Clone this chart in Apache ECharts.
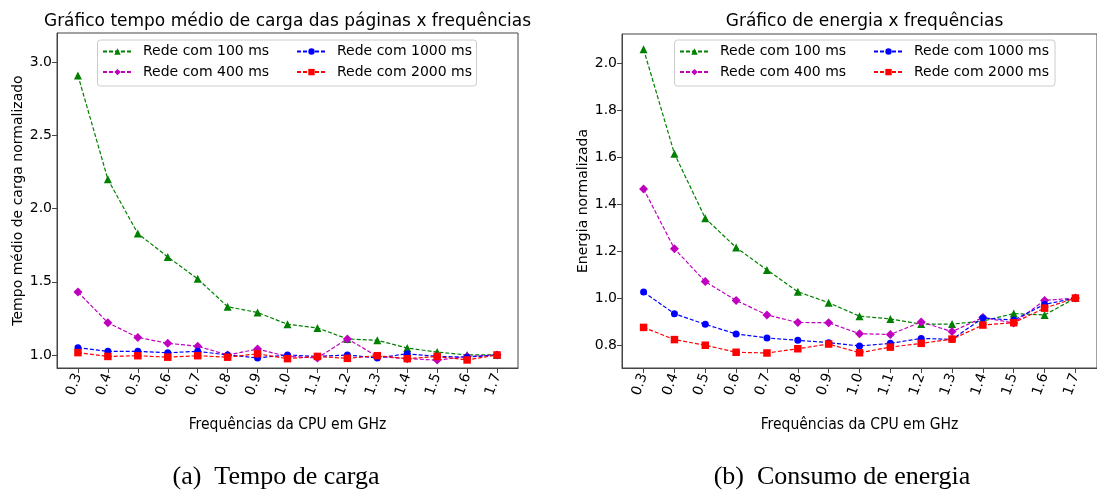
<!DOCTYPE html>
<html>
<head>
<meta charset="utf-8">
<script src="https://cdn.jsdelivr.net/npm/echarts@6/dist/echarts.min.js"></script>
<style>
  html, body { margin: 0; padding: 0; background: #fff; }
  #chart { width: 1097px; height: 491px; }
</style>
</head>
<body>
<div id="chart"></div>
<script>
// ---- Data ----
const freqs = [0.3, 0.4, 0.5, 0.6, 0.7, 0.8, 0.9, 1.0, 1.1, 1.2, 1.3, 1.4, 1.5, 1.6, 1.7];
const seriesNames = ['Rede com 100 ms', 'Rede com 400 ms', 'Rede com 1000 ms', 'Rede com 2000 ms'];

// Tempo médio de carga normalizado
const tempo100  = [2.91, 2.20, 1.83, 1.67, 1.52, 1.33, 1.29, 1.21, 1.185, 1.11, 1.10, 1.047, 1.02, 1.0, 1.0];
const tempo400  = [1.43, 1.22, 1.12, 1.08, 1.06, 1.00, 1.04, 0.99, 0.98, 1.11, 0.99, 0.975, 0.965, 0.99, 1.0];
const tempo1000 = [1.05, 1.025, 1.025, 1.015, 1.025, 1.0, 0.98, 1.0, 0.99, 1.0, 0.98, 1.008, 0.99, 0.985, 1.0];
const tempo2000 = [1.016, 0.99, 0.995, 0.985, 0.995, 0.985, 1.008, 0.975, 0.99, 0.977, 0.995, 0.975, 0.99, 0.966, 1.0];

// Energia normalizada
const energia100  = [2.06, 1.615, 1.34, 1.215, 1.12, 1.027, 0.98, 0.923, 0.911, 0.889, 0.889, 0.902, 0.934, 0.928, 1.0];
const energia400  = [1.465, 1.21, 1.07, 0.99, 0.928, 0.896, 0.895, 0.848, 0.845, 0.898, 0.857, 0.917, 0.894, 0.99, 1.0];
const energia1000 = [1.026, 0.933, 0.888, 0.847, 0.83, 0.82, 0.81, 0.796, 0.807, 0.828, 0.824, 0.915, 0.906, 0.973, 1.0];
const energia2000 = [0.875, 0.823, 0.799, 0.769, 0.766, 0.784, 0.804, 0.767, 0.791, 0.807, 0.825, 0.885, 0.895, 0.957, 1.0];

// Tick labels
const xTickLabels = [0.3, 0.4, 0.5, 0.6, 0.7, 0.8, 0.9, 1.0, 1.1, 1.2, 1.3, 1.4, 1.5, 1.6, 1.7];
const yTicksTempo = [1.0, 1.5, 2.0, 2.5, 3.0];
const yTicksEnergia = [0.8, 1.0, 1.2, 1.4, 1.6, 1.8, 2.0];

// Text
const titleLeft = 'Gráfico tempo médio de carga das páginas x frequências';
const titleRight = 'Gráfico de energia x frequências';
const xName = 'Frequências da CPU em GHz';
const yNameLeft = 'Tempo médio de carga normalizado';
const yNameRight = 'Energia normalizada';
const captionLeft = '(a)  Tempo de carga';
const captionRight = '(b)  Consumo de energia';

// ---- Styles ----
const colors = ['#008000', '#bf00bf', '#0000ff', '#ff0000'];
const symbols = ['triangle', 'diamond', 'circle', 'rect'];
const symbolSizes = [8, 9, 7, 7.5];
const FONT = 'DejaVu Sans';
const frameColor = '#444';

function pairs(vals) { return freqs.map((f, i) => [f, vals[i]]); }

function makeSeries(dataArrs, axisIndex) {
  return dataArrs.map((arr, i) => ({
    name: seriesNames[i],
    type: 'line',
    xAxisIndex: axisIndex,
    yAxisIndex: axisIndex,
    data: pairs(arr),
    symbol: symbols[i],
    symbolSize: symbolSizes[i],
    showAllSymbol: true,
    clip: false,
    z: 2 + i,
    itemStyle: { color: colors[i] },
    lineStyle: { color: colors[i], width: 1.2, type: [4, 2] },
    emphasis: { disabled: true }
  }));
}

function xAxis(gridIndex) {
  return {
    type: 'value',
    gridIndex,
    min: 0.23, max: 1.77,
    name: xName,
    nameLocation: 'middle',
    nameGap: 49,
    nameTextStyle: { fontFamily: 'DejaVu Sans Condensed', fontSize: 15.5, color: '#000' },
    axisLine: { show: true, onZero: false, lineStyle: { color: frameColor, width: 1 } },
    axisTick: { show: true, length: 5, lineStyle: { color: frameColor }, customValues: xTickLabels },
    axisLabel: {
      customValues: xTickLabels,
      rotate: 70, margin: 6,
      fontFamily: FONT, fontSize: 14, color: '#000',
      formatter: v => Number(v).toFixed(1)
    },
    splitLine: { show: false }
  };
}

function yAxis(gridIndex, min, max, ticks, name, gap) {
  return {
    type: 'value',
    gridIndex,
    min, max,
    name,
    nameLocation: 'middle',
    nameRotate: 90,
    nameGap: gap,
    nameTextStyle: { fontFamily: FONT, fontSize: 14, color: '#000' },
    axisLine: { show: true, onZero: false, lineStyle: { color: frameColor, width: 1 } },
    axisTick: { show: true, length: 5, lineStyle: { color: frameColor }, customValues: ticks },
    axisLabel: {
      customValues: ticks, margin: 5,
      fontFamily: FONT, fontSize: 14, color: '#000',
      formatter: v => Number(v).toFixed(1)
    },
    splitLine: { show: false }
  };
}

function legendCol(names, left) {
  return {
    data: names,
    orient: 'vertical',
    left, top: 44.5,
    padding: 0,
    z: 20,
    itemWidth: 29, itemHeight: 8, itemGap: 6.6,
    selectedMode: false,
    textStyle: { fontFamily: FONT, fontSize: 14, color: '#000', lineHeight: 14, padding: [0, 0, 0, 6] }
  };
}

function boxRect(x, y, w, h) {
  return {
    type: 'rect', z: 10,
    shape: { x, y, width: w, height: h, r: 3 },
    style: { fill: 'rgba(255,255,255,0.8)', stroke: '#cccccc', lineWidth: 1 }
  };
}

function label(text, x, y, font, size) {
  return {
    type: 'text', x, y, z: 100,
    style: { text, fill: '#000', font: size + 'px "' + font + '"', align: 'center', verticalAlign: 'middle' }
  };
}

const chart = echarts.init(document.getElementById('chart'), null, { renderer: 'canvas' });
chart.setOption({
  animation: false,
  backgroundColor: '#fff',
  grid: [
    { left: 57, top: 33, width: 461, height: 335, show: true, borderColor: frameColor, borderWidth: 1, backgroundColor: 'transparent', containLabel: false },
    { left: 622, top: 34, width: 484, height: 334, show: true, borderColor: frameColor, borderWidth: 1, backgroundColor: 'transparent', containLabel: false }
  ],
  xAxis: [xAxis(0), xAxis(1)],
  yAxis: [
    yAxis(0, 0.911, 3.2, yTicksTempo, yNameLeft, 32),
    yAxis(1, 0.702, 2.125, yTicksEnergia, yNameRight, 31)
  ],
  legend: [
    legendCol([seriesNames[0], seriesNames[1]], 102),
    legendCol([seriesNames[2], seriesNames[3]], 296),
    legendCol([seriesNames[0], seriesNames[1]], 679),
    legendCol([seriesNames[2], seriesNames[3]], 873)
  ],
  graphic: [
    boxRect(97.5, 40, 379, 46),
    boxRect(674.5, 40, 380.5, 46),
    label(titleLeft, 287.5, 22, FONT, 17),
    label(titleRight, 864.5, 22, FONT, 17),
    label(captionLeft, 276, 477, 'Liberation Serif', 26),
    label(captionRight, 842, 477, 'Liberation Serif', 26)
  ],
  series: [
    ...makeSeries([tempo100, tempo400, tempo1000, tempo2000], 0),
    ...makeSeries([energia100, energia400, energia1000, energia2000], 1)
  ]
});
</script>
</body>
</html>
